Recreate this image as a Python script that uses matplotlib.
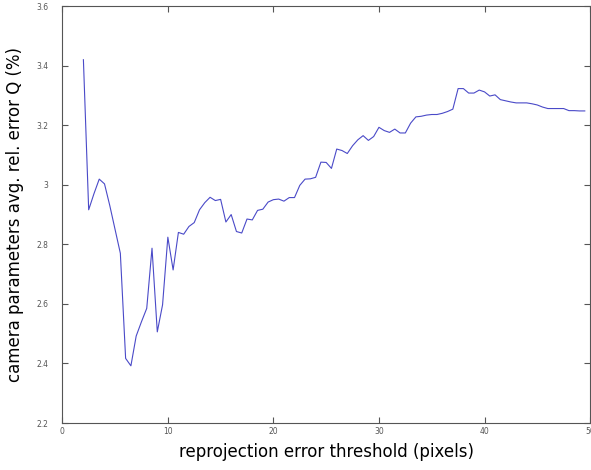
import matplotlib
matplotlib.use("Agg")
from matplotlib import pyplot as plt
import numpy as np

# reprojection error threshold vs camera parameter error

thresholds = np.arange(2.0, 50.0, 0.5)
errors = [3.42, 2.916, 2.97, 3.019, 3.003, 2.93, 2.85, 2.77, 2.417, 2.392,
          2.492, 2.54, 2.585, 2.787, 2.506, 2.597, 2.824, 2.714, 2.840, 2.834,
          2.86, 2.873, 2.916, 2.94, 2.958, 2.947, 2.951, 2.875, 2.90, 2.843,
          2.838, 2.885, 2.882, 2.914, 2.918, 2.942, 2.95, 2.952, 2.945, 2.957,
          2.957, 2.998, 3.019, 3.02, 3.025, 3.076, 3.075, 3.055, 3.12, 3.115,
          3.105, 3.131, 3.151, 3.165, 3.149, 3.162, 3.193, 3.182, 3.176, 3.187,
          3.174, 3.174, 3.207, 3.228, 3.23, 3.234, 3.236, 3.236, 3.24, 3.246,
          3.254, 3.323, 3.323, 3.308, 3.308, 3.318, 3.312, 3.298, 3.302, 3.286,
          3.282, 3.278, 3.275, 3.275, 3.275, 3.272, 3.268, 3.261, 3.256, 3.256,
          3.256, 3.256, 3.249, 3.249, 3.248, 3.248]
xticks = [0, 10, 20, 30, 40, 50]
yticks = [2.2, 2.4, 2.6, 2.8, 3.0, 3.2, 3.4, 3.6]
yticklabels = ["2.2", "2.4", "2.6", "2.8", "3", "3.2", "3.4", "3.6"]

fig = plt.figure(figsize=(5.91, 4.70), dpi=100)
ax = fig.add_axes([0.1054, 0.1, 0.893, 0.887])
ax.plot(thresholds, errors, color="#4a4ac8", linewidth=0.8)
ax.set_xlim(0, 50)
ax.set_ylim(2.2, 3.6)
ax.set_xticks(xticks)
ax.set_yticks(yticks)
ax.set_yticklabels(yticklabels)
ax.tick_params(direction="in", top=True, right=True, length=4, width=0.8,
               colors="#555555", labelsize=5.5)
ax.tick_params(axis="x", pad=3)
ax.tick_params(axis="y", pad=10)
for s in ax.spines.values():
    s.set_color("#555555")
    s.set_linewidth(0.8)
ax.set_xlabel("reprojection error threshold (pixels)", fontsize=12, labelpad=5)
ax.set_ylabel("camera parameters avg. rel. error Q (%)", fontsize=12, labelpad=9)
plt.savefig("out.png", dpi=100)
